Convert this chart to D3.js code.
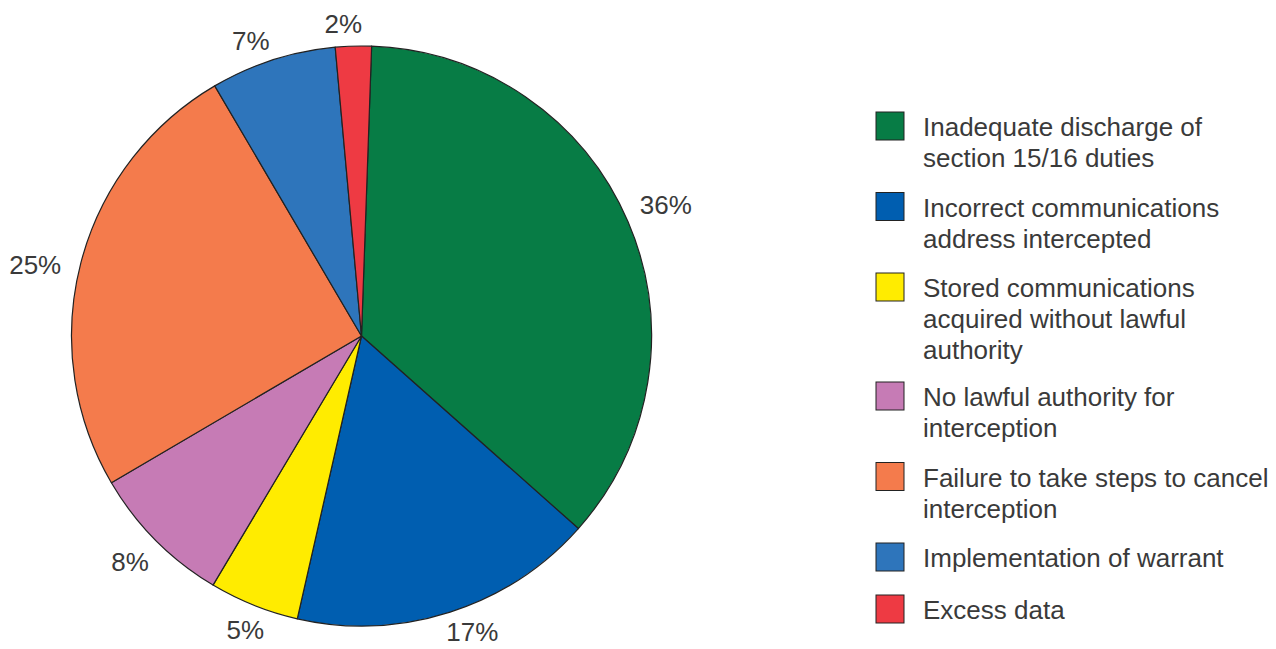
<!DOCTYPE html>
<html>
<head>
<meta charset="utf-8">
<script src="https://cdn.jsdelivr.net/npm/d3@7"></script>
<style>
  html, body { margin: 0; padding: 0; background: #ffffff; }
  svg { display: block; }
  text { font-family: "Liberation Sans", Arial, sans-serif; fill: #3a3a3a; }
</style>
</head>
<body>
<svg id="chart" width="1276" height="649"></svg>
<script>
const categories = [
  "Inadequate discharge of section 15/16 duties",
  "Incorrect communications address intercepted",
  "Stored communications acquired without lawful authority",
  "No lawful authority for interception",
  "Failure to take steps to cancel interception",
  "Implementation of warrant",
  "Excess data"
];
const values = [36, 17, 5, 8, 25, 7, 2];
const valueLabels = ["36%", "17%", "5%", "8%", "25%", "7%", "2%"];
const colors = ["#077c45", "#005eb0", "#ffec00", "#c67bb5", "#f47b4c", "#2e75bb", "#ee3a43"];

const svg = d3.select("#chart");
const cx = 361.5, cy = 336, radius = 290;
const startOffset = 2 * Math.PI / 180;

const pie = d3.pie().sort(null).value(d => d)
  .startAngle(startOffset).endAngle(startOffset + 2 * Math.PI);
const arcs = pie(values);
const arc = d3.arc().innerRadius(0).outerRadius(radius);

const g = svg.append("g").attr("transform", `translate(${cx},${cy})`);
g.selectAll("path.slice").data(arcs).enter().append("path")
  .attr("class", "slice")
  .attr("d", arc)
  .attr("fill", (d, i) => colors[i])
  .attr("stroke", "#222222")
  .attr("stroke-width", 1.2)
  .attr("stroke-linejoin", "round");

// percentage labels placed on an ellipse around the pie
const labelRx = 335, labelRy = 313, labelShift = -1.5 * Math.PI / 180;
function labelPos(d) {
  const a = (d.startAngle + d.endAngle) / 2 + labelShift;
  return [Math.sin(a) * labelRx, -Math.cos(a) * labelRy];
}
g.selectAll("text.pct").data(arcs).enter().append("text")
  .attr("class", "pct")
  .attr("transform", d => `translate(${labelPos(d)})`)
  .attr("text-anchor", "middle")
  .attr("dy", "0.35em")
  .style("font-size", "26px")
  .text((d, i) => valueLabels[i]);

// Legend
const legendX = 876, textX = 923, sq = 28, lineH = 31, wrapWidth = 352;
const legend = svg.append("g");
let y = 112;
categories.forEach((label, i) => {
  const item = legend.append("g");
  item.append("rect")
    .attr("x", legendX).attr("y", y)
    .attr("width", sq).attr("height", sq)
    .attr("fill", colors[i])
    .attr("stroke", "#222222").attr("stroke-width", 1);
  const t = item.append("text")
    .attr("x", textX).attr("y", y + sq / 2 + 1)
    .style("font-size", "26px");
  const words = label.split(" ");
  let line = [];
  let tspan = t.append("tspan").attr("x", textX).attr("dy", "0.35em");
  let n = 0;
  words.forEach(w => {
    line.push(w);
    tspan.text(line.join(" "));
    if (tspan.node().getComputedTextLength() > wrapWidth && line.length > 1) {
      line.pop();
      tspan.text(line.join(" "));
      line = [w];
      n++;
      tspan = t.append("tspan").attr("x", textX).attr("dy", lineH + "px").text(w);
    }
  });
  const nLines = n + 1;
  y += nLines * 28.5 + 23.5;
});
</script>
</body>
</html>
